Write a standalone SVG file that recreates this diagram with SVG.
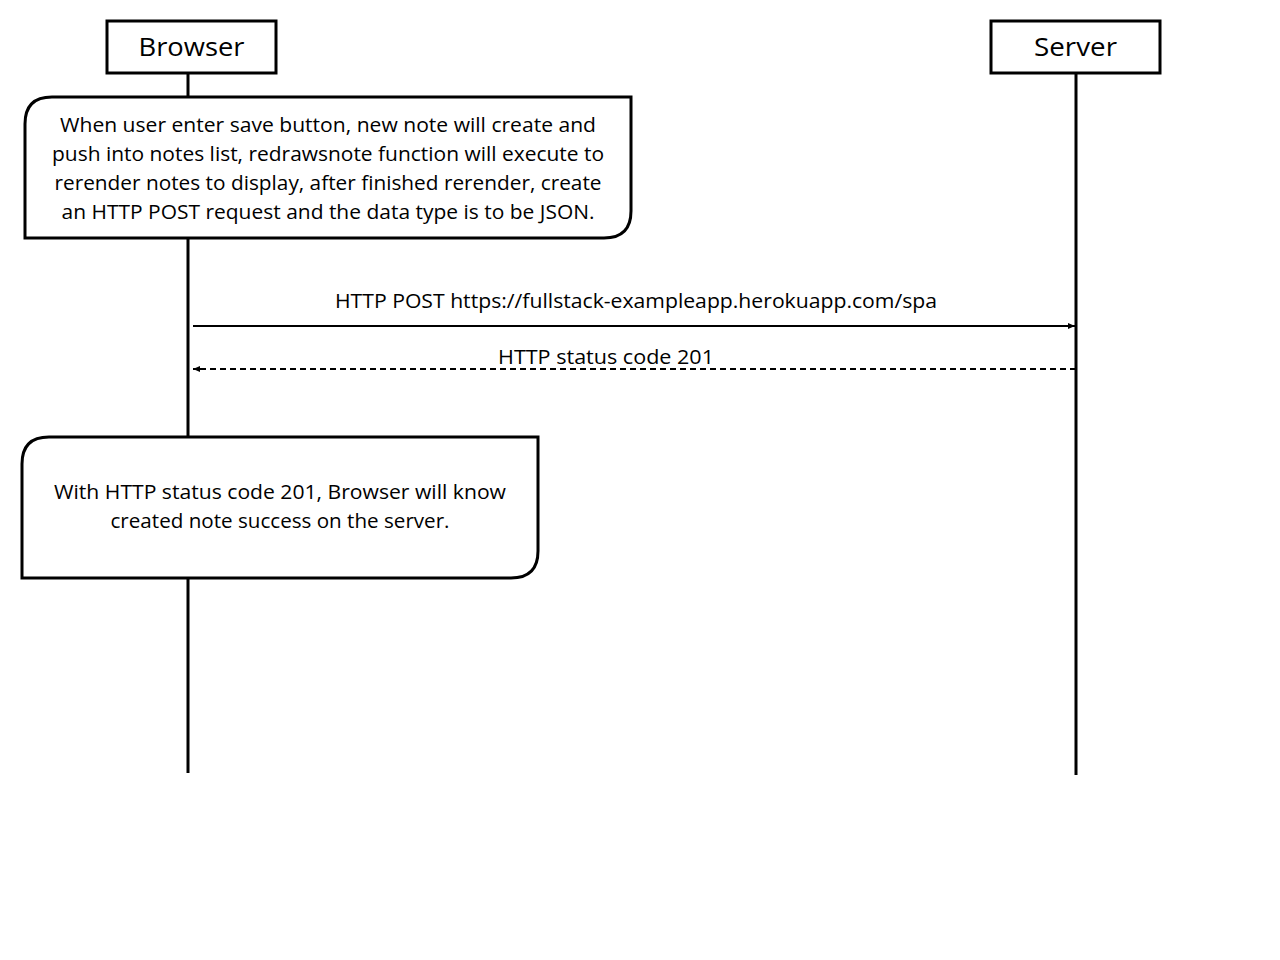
<svg xmlns="http://www.w3.org/2000/svg" width="1280" height="960" viewBox="0 0 1280 960">
<defs>
<style>
.box{fill:#fff;stroke:#000;stroke-width:3}
.life{stroke:#000;stroke-width:3}
.t{font-family:"Open Sans","Noto Sans","Liberation Sans",sans-serif;fill:#000;text-anchor:middle}
.n{font-size:20px}
.h{font-size:25px}
.msg{stroke:#000;stroke-width:2;fill:none}
</style>
<marker id="ah" markerWidth="8" markerHeight="8" refX="7" refY="4" orient="auto" markerUnits="userSpaceOnUse">
<path d="M0,1 L7,4 L0,7 Z" fill="#000"/>
</marker>
</defs>
<rect width="1280" height="960" fill="#fff"/>
<g id="lifelines">
<line class="life" x1="188" y1="73" x2="188" y2="773"/>
<line class="life" x1="1076" y1="73" x2="1076" y2="775"/>
</g>
<g id="browser">
<rect class="box" x="107" y="21" width="169" height="52"/>
<text class="t h" x="191.5" y="56" textLength="106" lengthAdjust="spacingAndGlyphs">Browser</text>
</g>
<g id="server">
<rect class="box" x="991" y="21" width="169" height="52"/>
<text class="t h" x="1075.5" y="56" textLength="83" lengthAdjust="spacingAndGlyphs">Server</text>
</g>
<g id="note1">
<path class="box" d="M25,238 L25,124 Q25,97 52,97 L631,97 L631,211 Q631,238 604,238 Z"/>
<text class="t n" x="328" y="132" textLength="536" lengthAdjust="spacingAndGlyphs">When user enter save button, new note will create and</text>
<text class="t n" x="328" y="161" textLength="552" lengthAdjust="spacingAndGlyphs">push into notes list, redrawsnote function will execute to</text>
<text class="t n" x="328" y="190" textLength="547" lengthAdjust="spacingAndGlyphs">rerender notes to display, after finished rerender, create</text>
<text class="t n" x="328" y="219" textLength="533" lengthAdjust="spacingAndGlyphs">an HTTP POST request and the data type is to be JSON.</text>
</g>
<g id="connectors">
<line class="msg" x1="193" y1="326" x2="1075" y2="326" marker-end="url(#ah)"/>
<text class="t n" x="636" y="308" textLength="602" lengthAdjust="spacingAndGlyphs">HTTP POST https://fullstack-exampleapp.herokuapp.com/spa</text>
<line class="msg" x1="1076" y1="369" x2="193" y2="369" stroke-dasharray="6,4" marker-end="url(#ah)"/>
<text class="t n" x="606" y="364" textLength="216" lengthAdjust="spacingAndGlyphs">HTTP status code 201</text>
</g>
<g id="note2">
<path class="box" d="M22,578 L22,464 Q22,437 49,437 L538,437 L538,551 Q538,578 511,578 Z"/>
<text class="t n" x="280" y="499" textLength="452" lengthAdjust="spacingAndGlyphs">With HTTP status code 201, Browser will know</text>
<text class="t n" x="280" y="528" textLength="339" lengthAdjust="spacingAndGlyphs">created note success on the server.</text>
</g>
</svg>
